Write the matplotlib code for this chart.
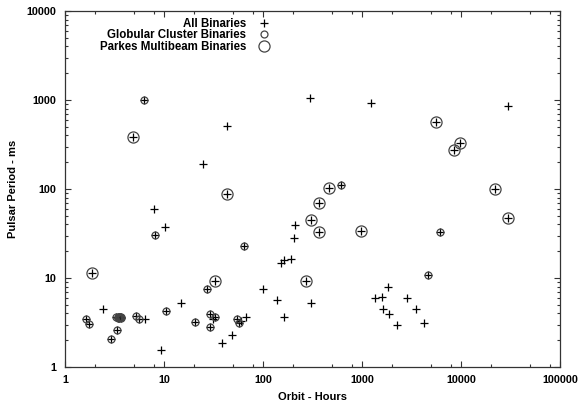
import numpy as np
import matplotlib
matplotlib.use('Agg')
import matplotlib.pyplot as plt
from matplotlib.ticker import LogLocator, NullFormatter

# binaries without a circle (plain "+")
other_orbit = [43.6, 25, 7.9, 10.3, 2.44, 14.7, 6.5, 9.4, 31, 38.8, 204, 210,
               153, 164, 190, 100, 139, 303, 163, 59.5, 67, 49, 1845, 1350,
               1600, 1640, 1860, 2260, 2850, 3540, 4230, 300, 1230, 29600]
other_period = [514, 191, 59, 37.4, 4.45, 5.24, 3.45, 1.57, 3.43, 1.85, 28.4, 39.4,
                14.6, 16.1, 16.3, 7.5, 5.6, 5.3, 3.65, 3.3, 3.6, 2.27, 7.9, 5.9,
                6.1, 4.5, 3.9, 2.94, 6.0, 4.5, 3.1, 1050, 920, 860]

# globular cluster binaries (the clump near 3.5 h is several overlapping pulsars)
glob_orbit = [6.3, 8.2, 27.4, 10.5, 1.62, 1.75, 3.3, 3.4, 3.45, 3.5, 3.55, 3.6,
              3.65, 3.7, 3.33, 2.92, 5.25, 5.6, 20.4, 28.9, 32.7, 29.2, 55, 57.6,
              63.8, 6180, 4610, 609]
glob_period = [993, 30.2, 7.5, 4.3, 3.46, 3.02, 3.6, 3.65, 3.55, 3.58, 3.66, 3.62,
               3.56, 3.6, 2.58, 2.06, 3.77, 3.43, 3.2, 3.97, 3.6, 2.81, 3.49, 3.12,
               22.7, 32.9, 10.9, 110]

# parkes multibeam binaries
pmb_orbit = [4.83, 43.6, 1.86, 33, 365, 978, 270, 29850, 461, 365, 303, 5550,
             9840, 8550, 22040]
pmb_period = [387, 88, 11.3, 9.2, 32.6, 33.7, 9.2, 46.9, 103.5, 69.6, 44.9, 561,
              331, 277, 100.6]

all_orbit = other_orbit + glob_orbit + pmb_orbit
all_period = other_period + glob_period + pmb_period

plt.rcParams['font.family'] = ['Liberation Sans', 'DejaVu Sans']
plt.rcParams['font.weight'] = 'bold'

fig = plt.figure(figsize=(5.78, 4.03), dpi=100)
ax = fig.add_axes([65 / 578, 36 / 403, 495 / 578, 356 / 403])

ax.plot(all_orbit, all_period, linestyle='none', marker='+', markersize=6,
        markeredgewidth=0.9, color='black', label='All Binaries')
ax.plot(glob_orbit, glob_period, linestyle='none', marker='o', markersize=5,
        markerfacecolor='none', markeredgewidth=0.9, markeredgecolor='#444444',
        label='Globular Cluster Binaries')
ax.plot(pmb_orbit, pmb_period, linestyle='none', marker='o', markersize=8,
        markerfacecolor='none', markeredgewidth=0.9, markeredgecolor='#444444',
        label='Parkes Multibeam Binaries')

ax.set_xscale('log')
ax.set_yscale('log')
ax.set_xlim(1, 100000)
ax.set_ylim(1, 10000)

ax.xaxis.set_minor_locator(LogLocator(base=10, subs=[2, 5, 8], numticks=10))
ax.yaxis.set_minor_locator(LogLocator(base=10, subs=np.arange(2, 10), numticks=10))
ax.xaxis.set_minor_formatter(NullFormatter())
ax.yaxis.set_minor_formatter(NullFormatter())
ax.set_xticks([1, 10, 100, 1000, 10000, 100000])
ax.set_xticklabels(['1', '10', '100', '1000', '10000', '100000'])
ax.set_yticks([1, 10, 100, 1000, 10000])
ax.set_yticklabels(['1', '10', '100', '1000', '10000'])

ax.tick_params(which='both', direction='in', top=True, right=True,
               labelsize=7.8, color='#333333')
ax.tick_params(which='major', length=4, width=0.8, pad=6)
ax.tick_params(which='minor', length=2.5, width=0.8)
for s in ax.spines.values():
    s.set_linewidth(0.9)
    s.set_color('#333333')

ax.set_xlabel('Orbit - Hours', fontsize=8, fontweight='bold', labelpad=5)
ax.set_ylabel('Pulsar Period - ms', fontsize=8, fontweight='bold', labelpad=6)

leg = ax.legend(loc='upper right', bbox_to_anchor=(0.413, 0.981), frameon=False,
                markerfirst=False, fontsize=8.3, handlelength=1.0,
                handletextpad=1.0, labelspacing=-0.05, borderpad=0,
                borderaxespad=0)

fig.savefig('out.png', dpi=100)
